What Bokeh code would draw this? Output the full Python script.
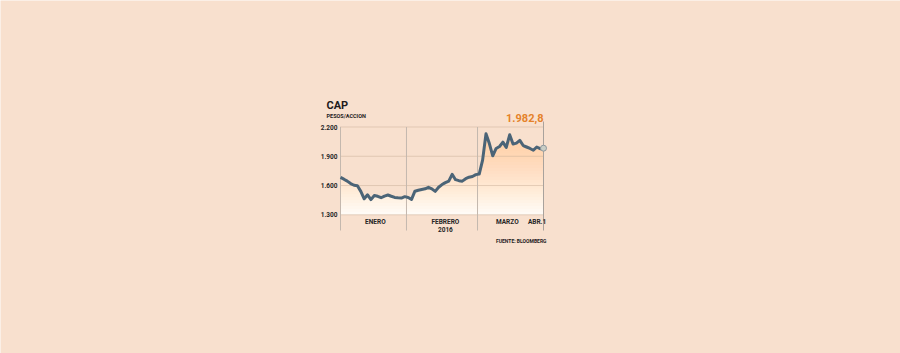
import numpy as np
from bokeh.plotting import figure
from bokeh.models import Range1d
from bokeh.core.properties import value
from bokeh.embed import file_html
from bokeh.resources import INLINE

# ---------------- data ----------------
price = [1683, 1665, 1645, 1620, 1603, 1598, 1540, 1464, 1505, 1456,
         1498, 1490, 1475, 1492, 1503, 1490, 1478, 1474, 1472, 1486,
         1478, 1458, 1542, 1552, 1560, 1566, 1582, 1566, 1540, 1582,
         1610, 1630, 1645, 1715, 1660, 1650, 1645, 1670, 1685, 1693,
         1712, 1718, 1860, 2130, 2030, 1905, 1980, 2000, 2045, 1990,
         2120, 2025, 2035, 2063, 2010, 1995, 1980, 1962, 1995, 1978,
         1982.8]
day = list(range(len(price)))
month_starts = [0, 19.5, 40.5]           # trading-day index where each month begins
month_labels = ["ENERO", "FEBRERO", "MARZO", "ABR.1"]
month_label_pos = [10.3, 31.0, 49.3, 58.1]
year_label = "2016"
y_ticks = [1300, 1600, 1900, 2200]
y_tick_labels = ["1.300", "1.600", "1.900", "2.200"]
last_label = "1.982,8"
title = "CAP"
subtitle = "PESOS/ACCION"
source = "FUENTE: BLOOMBERG"

# ---------------- layout ----------------
W, H = 900, 353
FX0, FX1 = 340.0, 543.0            # pixel of first / last trading day
PY_TOP, PY_BOT = 126.5, 214.3      # pixel of top / bottom tick
n = len(price) - 1
ppx = (FX1 - FX0) / n
ppy = (PY_BOT - PY_TOP) / (y_ticks[-1] - y_ticks[0])
x_start = -FX0 / ppx
x_end = n + (W - FX1) / ppx
y_end = y_ticks[-1] + PY_TOP / ppy
y_start = y_ticks[0] - (H - PY_BOT) / ppy


def X(px):
    return x_start + px / ppx


def Y(py):
    return y_end - py / ppy


BG = "#F8E0CE"
p = figure(width=W, height=H, output_backend="svg", toolbar_location=None,
           x_range=Range1d(x_start, x_end), y_range=Range1d(y_start, y_end),
           x_axis_type=None, y_axis_type=None, min_border=0,
           background_fill_color=BG, border_fill_color=BG,
           outline_line_color=None)
p.grid.visible = False

x = np.array(day, dtype=float)
yv = np.array(price, dtype=float)
base = y_ticks[0]

# gradient area under the line
p.varea(x=x, y1=np.full_like(yv, base), y2=yv, fill_color="#FFFDFA")
levels = np.arange(base, y_ticks[-1] + 1, 30)
for lv in levels:
    p.varea(x=x, y1=np.full_like(yv, lv), y2=np.maximum(yv, lv),
            fill_color="#F6C878", fill_alpha=0.027)

# horizontal gridlines
p.segment(x0=[day[0]] * len(y_ticks), x1=[day[-1]] * len(y_ticks),
          y0=y_ticks, y1=y_ticks, line_color="#C9AE98", line_width=1,
          line_dash="1 1")

# vertical dividers
bottom_y = Y(230)
p.segment(x0=month_starts, x1=month_starts,
          y0=[y_ticks[-1]] * len(month_starts), y1=[bottom_y] * len(month_starts),
          line_color="#C4B8AE", line_width=1)
p.segment(x0=[day[-1]], x1=[day[-1]], y0=[Y(121)], y1=[bottom_y],
          line_color="#A9A29C", line_width=1)

# price line
p.line(x, yv, line_color="#4B6477", line_width=3, line_join="round")
p.scatter([day[-1]], [price[-1]], size=6, fill_color="#C9CEC6",
          line_color="#8E979C", line_width=1)

FONT = value("Roboto")
TXT = "#262626"

# y tick labels
p.text(x=[X(337)] * len(y_ticks), y=y_ticks, text=y_tick_labels,
       text_font=FONT, text_font_style="bold", text_font_size="6.5px",
       text_align="right", text_baseline="middle", text_color=TXT)

# month labels
p.text(x=month_label_pos, y=[Y(221.7)] * len(month_labels), text=month_labels,
       text_font=FONT, text_font_style="bold", text_font_size="6.5px",
       text_align="center", text_baseline="middle", text_color=TXT)
p.text(x=[month_label_pos[1]], y=[Y(229)], text=[year_label],
       text_font=FONT, text_font_style="bold", text_font_size="6.5px",
       text_align="center", text_baseline="middle", text_color=TXT)

# titles
p.text(x=[X(326)], y=[Y(104.5)], text=[title], text_font=FONT,
       text_font_style="bold", text_font_size="11px", text_align="left",
       text_baseline="middle", text_color="#1E1B1C")
p.text(x=[X(326)], y=[Y(115)], text=[subtitle], text_font=FONT,
       text_font_style="bold", text_font_size="5.5px", text_align="left",
       text_baseline="middle", text_color="#1E1B1C")

# last value label
p.text(x=[day[-1]], y=[Y(117)], text=[last_label], text_font=FONT,
       text_font_style="bold", text_font_size="11px", text_align="right",
       text_baseline="middle", text_color="#E5822A")

# source
p.text(x=[X(546)], y=[Y(240.7)], text=[source], text_font=FONT,
       text_font_style="bold", text_font_size="5px", text_align="right",
       text_baseline="middle", text_color="#1E1B1C")

open("out.html", "w").write(file_html(p, INLINE))
